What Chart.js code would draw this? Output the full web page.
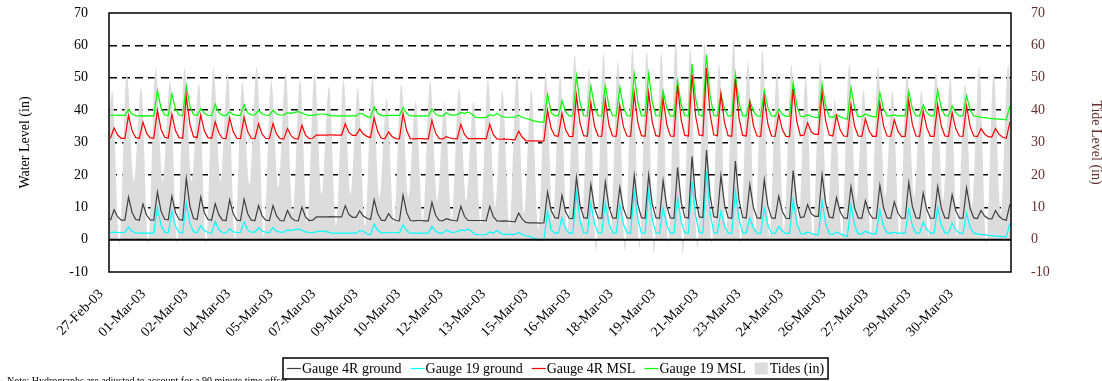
<!DOCTYPE html>
<html>
<head>
<meta charset="utf-8">
<script src="https://cdn.jsdelivr.net/npm/chart.js@4.4.1/dist/chart.umd.min.js"></script>
<style>
  html, body { margin: 0; padding: 0; background: #ffffff; }
  #wrap { position: relative; width: 1102px; height: 381px; overflow: hidden; }
</style>
</head>
<body>
<div id="wrap"><canvas id="chart" width="1102" height="381"></canvas></div>
<script>
// Date labels along the bottom axis (one every ~37 hours of readings)
const tickLabels = ['27-Feb-03', '01-Mar-03', '02-Mar-03', '04-Mar-03', '05-Mar-03', '07-Mar-03',
  '09-Mar-03', '10-Mar-03', '12-Mar-03', '13-Mar-03', '15-Mar-03', '16-Mar-03', '18-Mar-03',
  '19-Mar-03', '21-Mar-03', '23-Mar-03', '24-Mar-03', '26-Mar-03', '27-Mar-03', '29-Mar-03', '30-Mar-03'];

const seriesNames = ['Gauge 4R ground', 'Gauge 19 ground', 'Gauge 4R MSL', 'Gauge 19 MSL', 'Tides (in)'];

// Gauge readings (inches), one value per reading, four readings per tidal cycle
const gauge4RGround = [6.0,
  9.2, 7.0, 6.0, 6.0,  13.1, 8.3, 6.2, 6.0,  11.0, 7.6, 6.1, 6.0,  14.7, 8.8, 6.3, 6.1,
  13.4, 8.4, 6.2, 6.0,  19.0, 10.3, 6.5, 6.2,  13.2, 8.3, 6.2, 6.0,  11.1, 7.7, 6.0, 5.9,
  12.3, 8.0, 6.0, 5.9,  12.5, 8.0, 6.0, 5.9,  10.5, 7.3, 6.0, 5.9,  10.5, 7.3, 5.9, 5.8,
  9.0, 6.8, 5.9, 5.8,  10.0, 7.0, 5.9, 6.0,  7.0, 7.0, 7.0, 7.0,  7.1, 7.0, 7.0, 7.0,
  10.5, 7.8, 6.9, 6.9,  8.9, 7.3, 6.6, 6.2,  12.3, 8.0, 6.0, 5.9,  8.0, 6.5, 5.9, 5.8,
  13.7, 8.4, 5.9, 5.8,  5.9, 5.9, 5.8, 5.8,  11.5, 7.6, 5.9, 5.8,  6.5, 6.1, 5.9, 5.8,
  10.3, 7.2, 5.9, 5.9,  5.9, 5.9, 5.9, 5.8,  10.3, 7.1, 5.8, 5.7,  5.8, 5.7, 5.6, 5.5,
  8.2, 6.3, 5.3, 5.2,  5.2, 5.2, 5.1, 5.2,  14.7, 9.0, 6.8, 6.6,  13.7, 8.6, 6.6, 6.5,
  19.2, 10.6, 6.8, 6.6,  17.0, 9.8, 6.7, 6.6,  17.8, 10.1, 6.7, 6.6,  16.2, 9.6, 6.7, 6.6,
  19.8, 10.8, 6.8, 6.6,  20.0, 10.9, 6.8, 6.6,  18.2, 10.3, 6.7, 6.6,  22.3, 11.6, 6.9, 6.7,
  25.7, 12.8, 7.0, 6.8,  27.7, 13.5, 7.1, 6.8,  19.8, 10.8, 6.8, 6.6,  24.3, 12.3, 6.9, 6.7,
  17.0, 9.9, 6.7, 6.6,  18.5, 10.4, 6.7, 6.6,  13.4, 8.7, 6.6, 6.5,  21.3, 11.2, 6.8, 7.0,
  10.8, 8.0, 7.2, 7.2,  20.1, 11.3, 7.0, 6.7,  13.0, 8.6, 6.7, 6.6,  16.4, 9.8, 6.7, 6.6,
  12.0, 8.3, 6.6, 6.6,  16.8, 9.9, 6.7, 6.6,  11.7, 8.2, 6.6, 6.6,  17.7, 10.2, 6.7, 6.6,
  14.4, 9.2, 6.6, 6.6,  16.4, 9.8, 6.7, 6.6,  13.9, 9.0, 6.7, 6.6,  16.0, 9.6, 6.7, 6.5,
  9.0, 7.3, 6.5, 6.4,  9.0, 7.2, 6.3, 6.0,
  11.0];

const gauge19Ground = [2.2,
  2.3, 2.2, 2.2, 2.2,  3.9, 2.6, 2.1, 2.0,  2.1, 2.0, 2.0, 2.0,  9.8, 4.5, 2.3, 2.1,
  8.8, 4.2, 2.3, 2.1,  11.3, 5.0, 2.4, 2.2,  4.3, 2.8, 2.2, 2.1,  5.6, 3.1, 2.2, 2.1,
  3.3, 2.4, 2.2, 2.2,  5.5, 3.0, 2.3, 2.3,  3.7, 2.6, 2.3, 2.2,  3.7, 2.6, 2.3, 2.3,
  3.0, 2.8, 3.1, 3.3,  2.9, 2.4, 2.2, 2.2,  2.4, 2.6, 2.6, 2.4,  2.1, 2.0, 2.0, 2.0,
  2.0, 2.0, 2.0, 2.0,  2.8, 2.6, 1.8, 1.5,  4.8, 2.8, 2.1, 2.1,  2.2, 2.2, 2.2, 2.1,
  4.6, 2.8, 2.0, 2.0,  2.0, 2.0, 2.0, 2.0,  4.1, 2.6, 2.0, 2.0,  3.0, 2.4, 2.2, 2.5,
  3.0, 2.8, 3.2, 2.6,  1.6, 1.5, 1.5, 1.5,  2.4, 2.0, 2.8, 2.0,  1.6, 1.6, 1.6, 1.6,
  2.2, 1.6, 1.2, 1.0,  0.5, 0.3, 0.0, 0.0,  8.7, 3.0, 2.0, 2.0,  6.7, 3.3, 2.0, 2.0,
  14.4, 6.0, 2.1, 2.0,  11.3, 5.0, 2.1, 2.0,  11.3, 5.0, 2.1, 2.0,  10.8, 4.8, 2.1, 2.0,
  14.9, 6.2, 2.1, 2.0,  15.0, 6.2, 2.1, 2.0,  9.8, 4.6, 2.0, 2.0,  12.8, 5.5, 2.1, 2.0,
  18.0, 7.3, 2.2, 2.0,  21.0, 8.3, 2.2, 2.0,  8.7, 4.2, 2.0, 2.0,  14.9, 6.2, 2.1, 2.0,
  6.7, 3.5, 2.0, 1.9,  9.8, 4.5, 2.0, 1.9,  4.1, 2.6, 1.9, 1.9,  12.3, 5.2, 1.9, 1.8,
  2.4, 1.9, 1.6, 1.5,  11.8, 5.0, 1.8, 1.6,  2.4, 1.8, 1.3, 1.0,  10.8, 4.5, 1.8, 1.8,
  2.6, 2.1, 1.8, 1.8,  9.2, 4.2, 2.0, 2.0,  2.3, 2.0, 2.0, 2.0,  9.6, 4.3, 2.0, 2.0,
  5.4, 3.0, 2.0, 2.0,  10.0, 4.5, 2.1, 2.0,  5.1, 3.0, 2.0, 2.0,  8.2, 3.8, 2.0, 1.8,
  1.6, 1.5, 1.3, 1.2,  1.1, 1.0, 0.9, 0.8,
  5.1];

const gauge4RMSL = [31.3,
  34.5, 32.3, 31.3, 31.3,  38.4, 33.6, 31.5, 31.3,  36.3, 32.9, 31.4, 31.3,  40.0, 34.1, 31.6, 31.4,
  38.7, 33.7, 31.5, 31.3,  44.3, 35.6, 31.8, 31.5,  38.5, 33.6, 31.5, 31.3,  36.4, 33.0, 31.3, 31.2,
  37.6, 33.3, 31.3, 31.2,  37.8, 33.3, 31.3, 31.2,  35.8, 32.6, 31.3, 31.2,  35.8, 32.6, 31.2, 31.1,
  34.3, 32.1, 31.2, 31.1,  35.3, 32.3, 31.2, 31.3,  32.3, 32.3, 32.3, 32.3,  32.4, 32.3, 32.3, 32.3,
  35.8, 33.1, 32.2, 32.2,  34.2, 32.6, 31.9, 31.5,  37.6, 33.3, 31.3, 31.2,  33.3, 31.8, 31.2, 31.1,
  39.0, 33.7, 31.2, 31.1,  31.2, 31.2, 31.1, 31.1,  36.8, 32.9, 31.2, 31.1,  31.8, 31.4, 31.2, 31.1,
  35.6, 32.5, 31.2, 31.2,  31.2, 31.2, 31.2, 31.1,  35.6, 32.4, 31.1, 31.0,  31.1, 31.0, 30.9, 30.8,
  33.5, 31.6, 30.6, 30.5,  30.5, 30.5, 30.4, 30.5,  40.0, 34.3, 32.1, 31.9,  39.0, 33.9, 31.9, 31.8,
  44.5, 35.9, 32.1, 31.9,  42.3, 35.1, 32.0, 31.9,  43.1, 35.4, 32.0, 31.9,  41.5, 34.9, 32.0, 31.9,
  45.1, 36.1, 32.1, 31.9,  45.3, 36.2, 32.1, 31.9,  43.5, 35.6, 32.0, 31.9,  47.6, 36.9, 32.2, 32.0,
  51.0, 38.1, 32.3, 32.1,  53.0, 38.8, 32.4, 32.1,  45.1, 36.1, 32.1, 31.9,  49.6, 37.6, 32.2, 32.0,
  42.3, 35.2, 32.0, 31.9,  43.8, 35.7, 32.0, 31.9,  38.7, 34.0, 31.9, 31.8,  46.6, 36.5, 32.1, 32.3,
  36.1, 33.3, 32.5, 32.5,  45.4, 36.6, 32.3, 32.0,  38.3, 33.9, 32.0, 31.9,  41.7, 35.1, 32.0, 31.9,
  37.3, 33.6, 31.9, 31.9,  42.1, 35.2, 32.0, 31.9,  37.0, 33.5, 31.9, 31.9,  43.0, 35.5, 32.0, 31.9,
  39.7, 34.5, 31.9, 31.9,  41.7, 35.1, 32.0, 31.9,  39.2, 34.3, 32.0, 31.9,  41.3, 34.9, 32.0, 31.8,
  34.3, 32.6, 31.8, 31.7,  34.3, 32.5, 31.6, 31.3,
  36.3];

const gauge19MSL = [38.4,
  38.5, 38.4, 38.4, 38.4,  40.1, 38.8, 38.3, 38.2,  38.3, 38.2, 38.2, 38.2,  46.0, 40.7, 38.5, 38.3,
  45.0, 40.4, 38.5, 38.3,  47.5, 41.2, 38.6, 38.4,  40.5, 39.0, 38.4, 38.3,  41.8, 39.3, 38.4, 38.3,
  39.5, 38.6, 38.4, 38.4,  41.7, 39.2, 38.5, 38.5,  39.9, 38.8, 38.5, 38.4,  39.9, 38.8, 38.5, 38.5,
  39.2, 39.0, 39.3, 39.5,  39.1, 38.6, 38.4, 38.4,  38.6, 38.8, 38.8, 38.6,  38.3, 38.2, 38.2, 38.2,
  38.2, 38.2, 38.2, 38.2,  39.0, 38.8, 38.0, 37.7,  41.0, 39.0, 38.3, 38.3,  38.4, 38.4, 38.4, 38.3,
  40.8, 39.0, 38.2, 38.2,  38.2, 38.2, 38.2, 38.2,  40.3, 38.8, 38.2, 38.2,  39.2, 38.6, 38.4, 38.7,
  39.2, 39.0, 39.4, 38.8,  37.8, 37.7, 37.7, 37.7,  38.6, 38.2, 39.0, 38.2,  37.8, 37.8, 37.8, 37.8,
  38.4, 37.8, 37.4, 37.2,  36.7, 36.5, 36.3, 36.3,  44.9, 39.2, 38.2, 38.2,  42.9, 39.5, 38.2, 38.2,
  50.6, 42.2, 38.3, 38.2,  47.5, 41.2, 38.3, 38.2,  47.5, 41.2, 38.3, 38.2,  47.0, 41.0, 38.3, 38.2,
  51.1, 42.4, 38.3, 38.2,  51.2, 42.4, 38.3, 38.2,  46.0, 40.8, 38.2, 38.2,  49.0, 41.7, 38.3, 38.2,
  54.2, 43.5, 38.4, 38.2,  57.2, 44.5, 38.4, 38.2,  44.9, 40.4, 38.2, 38.2,  51.1, 42.4, 38.3, 38.2,
  42.9, 39.7, 38.2, 38.1,  46.0, 40.7, 38.2, 38.1,  40.3, 38.8, 38.1, 38.1,  48.5, 41.4, 38.1, 38.0,
  38.6, 38.1, 37.8, 37.7,  48.0, 41.2, 38.0, 37.8,  38.6, 38.0, 37.5, 37.2,  47.0, 40.7, 38.0, 38.0,
  38.8, 38.3, 38.0, 38.0,  45.4, 40.4, 38.2, 38.2,  38.5, 38.2, 38.2, 38.2,  45.8, 40.5, 38.2, 38.2,
  41.6, 39.2, 38.2, 38.2,  46.2, 40.7, 38.3, 38.2,  41.3, 39.2, 38.2, 38.2,  44.4, 40.0, 38.2, 38.0,
  37.8, 37.7, 37.5, 37.4,  37.3, 37.2, 37.1, 37.0,
  41.3];

// Tide extremes (inches): alternating low / high, half a tidal cycle apart
const tideLevels = [18,
  45.7, -1.5,  51.4, 18,  46.8, -1.5,  52.9, 18,  49.0, -1.5,  52.9, 18,  48.3, -1.5,  52.9, 18,
  51.4, 0,  48.8, 17,  53.4, 1,  49.3, 16,  51.4, 8,  49.3, 5,  51.4, 14,  47.3, 4,
  49.3, 14,  46.8, 4,  49.8, 13,  43.7, 5,  47.8, 13,  42.7, 6,  48.8, 12,  42.5, 6,
  46.8, 12,  42.7, 5,  49.8, 10,  46.0, 4,  51.4, 8,  46.2, 3,  51.9, 6,  50.4, 2,
  57.0, 4,  52.9, -3.6,  57.5, 2,  55.0, -3.6,  59.1, -2.6,  58.0, -4.6,  57.6, -1,  61.2, -4.6,
  59.0, -2.6,  60.6, -1.3,  54.0, 2,  61.7, -1.3,  55.0, 3,  58.6, 1,  52.0, 3,  54.0, 4,
  50.0, 1,  55.0, 8,  43.2, 1,  54.0, 12,  46.2, 1,  53.4, 13,  45.7, 1,  51.4, 13,
  46.0, 1,  51.4, 12,  50.0, 1,  48.0, 10,  53.4, -1.3,  51.4, 8,  54.0, 1];

// Axis placement (in reading units)
const X_MIN = -0.4, X_MAX = 249.3;
const TIDE_FIRST_X = -1.5, TIDE_HALF_CYCLE = 2;
const FIRST_LABEL_X = -0.4, LABEL_SPACING = 11.77;

const SERIF = '"Liberation Serif", "Times New Roman", serif';
const MAROON = '#662f2f';
const colors = ['#3f3f3f', '#00ffff', '#ff0000', '#00ff00', '#dcdcdc'];

const readingPoints = vals => vals.map((y, i) => ({ x: i, y }));
const tidePoints = tideLevels.map((y, m) => ({ x: TIDE_FIRST_X + m * TIDE_HALF_CYCLE, y }));

const lineSet = (idx, vals) => ({
  label: seriesNames[idx],
  data: readingPoints(vals),
  borderColor: colors[idx],
  backgroundColor: colors[idx],
  borderWidth: 1.2,
  pointRadius: 0,
  tension: 0,
  fill: false,
  yAxisID: 'y'
});

// Vertical axes keep the plot flush with the layout padding
const noVerticalPadding = axis => { axis.paddingTop = 0; axis.paddingBottom = 0; };

// Plot frame and zero line, drawn over the data
const framePlugin = {
  id: 'frame',
  afterDatasetsDraw(chart) {
    const { ctx, chartArea: a, scales } = chart;
    const y0 = scales.y.getPixelForValue(0);
    ctx.save();
    ctx.strokeStyle = '#000';
    ctx.lineWidth = 2;
    ctx.beginPath();
    ctx.moveTo(a.left, y0);
    ctx.lineTo(a.right, y0);
    ctx.stroke();
    ctx.lineWidth = 1.5;
    ctx.strokeRect(a.left, a.top, a.right - a.left, a.bottom - a.top);
    ctx.restore();
  }
};

// Boxed legend along the bottom, plus the footnote
const boxLegendPlugin = {
  id: 'boxLegend',
  afterDraw(chart) {
    const { ctx } = chart;
    const sets = chart.data.datasets;
    ctx.save();
    ctx.font = '14px ' + SERIF;
    ctx.textBaseline = 'middle';
    const sample = 14, afterSample = 1, gap = 9, pad = 4;
    let total = pad * 2;
    sets.forEach((ds, i) => {
      total += sample + afterSample + ctx.measureText(ds.label).width + (i < sets.length - 1 ? gap : 0);
    });
    const cx = 556, top = 358, h = 21;
    const left = Math.round(cx - total / 2);
    ctx.fillStyle = '#fff';
    ctx.fillRect(left, top, total, h);
    ctx.strokeStyle = '#000';
    ctx.lineWidth = 1.5;
    ctx.strokeRect(left, top, total, h);
    const my = top + h / 2;
    let x = left + pad;
    sets.forEach((ds) => {
      if (ds.fill) {
        ctx.fillStyle = ds.backgroundColor;
        ctx.fillRect(x, my - 6, 13, 12);
      } else {
        ctx.strokeStyle = ds.borderColor;
        ctx.lineWidth = 1.2;
        ctx.beginPath();
        ctx.moveTo(x, my);
        ctx.lineTo(x + sample, my);
        ctx.stroke();
      }
      x += sample + afterSample;
      ctx.fillStyle = '#000';
      ctx.fillText(ds.label, x, my + 1);
      x += ctx.measureText(ds.label).width + gap;
    });
    ctx.font = '10px ' + SERIF;
    ctx.textBaseline = 'top';
    ctx.fillText('Note: Hydrographs are adjusted to account for a 90 minute time offset', 7, 376);
    ctx.restore();
  }
};

new Chart(document.getElementById('chart'), {
  type: 'line',
  data: {
    datasets: [
      lineSet(0, gauge4RGround),
      lineSet(1, gauge19Ground),
      lineSet(2, gauge4RMSL),
      lineSet(3, gauge19MSL),
      {
        label: seriesNames[4],
        data: tidePoints,
        borderWidth: 0,
        borderColor: colors[4],
        backgroundColor: colors[4],
        pointRadius: 0,
        cubicInterpolationMode: 'monotone',
        fill: 'origin',
        yAxisID: 'y1'
      }
    ]
  },
  options: {
    responsive: false,
    devicePixelRatio: 1,
    animation: false,
    events: [],
    layout: { padding: { top: 13, left: 0, right: 0, bottom: 0 } },
    plugins: { legend: { display: false }, tooltip: { enabled: false } },
    scales: {
      x: {
        type: 'linear',
        min: X_MIN,
        max: X_MAX,
        grid: { display: false, drawTicks: false, tickLength: 0 },
        border: { display: false },
        afterBuildTicks(axis) {
          axis.ticks = tickLabels.map((_, n) => ({ value: FIRST_LABEL_X + n * LABEL_SPACING }));
        },
        afterFit(axis) { axis.height = 109; },
        ticks: {
          autoSkip: false,
          maxRotation: 45,
          minRotation: 45,
          padding: 14,
          labelOffset: -8,
          color: '#000',
          font: { family: SERIF, size: 14 },
          callback: (v, i) => tickLabels[i]
        }
      },
      y: {
        position: 'left',
        min: -10,
        max: 70,
        afterFit(axis) { axis.width = 109; noVerticalPadding(axis); },
        ticks: { stepSize: 10, padding: 21, color: '#000', font: { family: SERIF, size: 14 } },
        grid: {
          drawTicks: false,
          tickLength: 0,
          lineWidth: 1.4,
          color: c => (c.tick && c.tick.value >= 10 && c.tick.value <= 60) ? '#000' : 'rgba(0,0,0,0)'
        },
        border: { display: false, dash: [8, 5] },
        title: {
          display: true,
          text: 'Water Level (in)',
          color: '#000',
          font: { family: SERIF, size: 14, lineHeight: 1.2 },
          padding: { top: 17, bottom: 0 }
        }
      },
      y1: {
        position: 'right',
        min: -10,
        max: 70,
        afterFit(axis) { axis.width = 91; noVerticalPadding(axis); },
        ticks: { stepSize: 10, padding: 20, color: MAROON, font: { family: SERIF, size: 14 } },
        grid: { display: false, drawTicks: false, tickLength: 0 },
        border: { display: false },
        title: {
          display: true,
          text: 'Tide Level (in)',
          color: MAROON,
          font: { family: SERIF, size: 14, lineHeight: 1 },
          padding: { top: -1, bottom: 0 }
        }
      }
    }
  },
  plugins: [framePlugin, boxLegendPlugin]
});
</script>
</body>
</html>
